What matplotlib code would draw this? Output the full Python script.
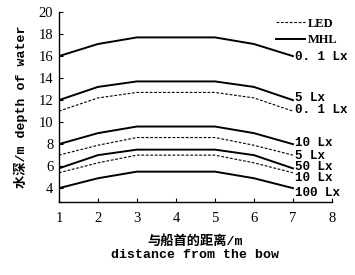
import numpy as np
import matplotlib
matplotlib.use('Agg')
import matplotlib.pyplot as plt

plt.rcParams['font.family'] = ['Liberation Mono', 'Noto Sans CJK SC']

# distance from the bow (m)
dist = [1, 2, 3, 4, 5, 6, 7]

# MHL lamps, depth of water at each light level
mhl_01 = [16.0, 17.1, 17.7, 17.7, 17.7, 17.1, 16.0]
mhl_5 = [12.0, 13.2, 13.7, 13.7, 13.7, 13.2, 12.0]
mhl_10 = [8.0, 9.0, 9.6, 9.6, 9.6, 9.0, 8.0]
mhl_50 = [5.8, 7.0, 7.5, 7.5, 7.5, 7.0, 5.8]
mhl_100 = [4.0, 4.9, 5.5, 5.5, 5.5, 4.9, 4.0]

# LED lamps
led_01 = [11.0, 12.2, 12.7, 12.7, 12.7, 12.2, 11.0]
led_5 = [7.0, 7.9, 8.6, 8.6, 8.6, 7.9, 7.0]
led_10 = [5.4, 6.3, 7.0, 7.0, 7.0, 6.3, 5.4]

mhl_series = [mhl_01, mhl_5, mhl_10, mhl_50, mhl_100]
mhl_labels = ['0. 1 Lx', '5 Lx', '10 Lx', '50 Lx', '100 Lx']
led_series = [led_01, led_5, led_10]
led_labels = ['0. 1 Lx', '5 Lx', '10 Lx']

fig = plt.figure(figsize=(3.55, 2.75), dpi=100)
ax = fig.add_axes([0.166, 0.265, 0.769, 0.691])

dash = (0, (2.5, 1.5))
for s in mhl_series:
    ax.plot(dist, s, color='black', linewidth=1.4)
for s in led_series:
    ax.plot(dist, s, color='black', linewidth=0.8, linestyle=dash)

# end labels, nudged a little so they don't collide
mhl_nudge = [-0.1, 0.2, 0.1, 0.1, -0.4]
led_nudge = [0.1, -0.1, -0.5]
for s, lab, dy in zip(mhl_series, mhl_labels, mhl_nudge):
    ax.text(7.05, s[-1] + dy, lab, fontsize=9, va='center', ha='left', fontweight='bold')
for s, lab, dy in zip(led_series, led_labels, led_nudge):
    ax.text(7.05, s[-1] + dy, lab, fontsize=9, va='center', ha='left', fontweight='bold')

# legend via proxy lines
l1, = ax.plot([], [], color='black', linewidth=0.8, linestyle=dash)
l2, = ax.plot([], [], color='black', linewidth=1.4)
ax.legend([l1, l2], ['LED', 'MHL'], loc='upper right', bbox_to_anchor=(1.06, 1.03),
          frameon=False, handlelength=2.3, handletextpad=0.2, labelspacing=0.35,
          prop={'family': 'Liberation Serif', 'size': 9, 'weight': 'bold'})

ax.set_xlim(1, 8)
ax.set_ylim(2.73, 20)
ax.set_xticks(range(1, 9))
ax.set_yticks(range(4, 21, 2))
ax.tick_params(direction='in', length=3, width=0.8, labelsize=10.5)
ax.tick_params(axis='x', pad=7)
ax.tick_params(axis='y', pad=4)
for lab in ax.get_xticklabels() + ax.get_yticklabels():
    lab.set_family('Liberation Serif')
ax.spines['top'].set_visible(False)
ax.spines['right'].set_visible(False)
for sp in ['left', 'bottom']:
    ax.spines[sp].set_linewidth(1.0)

ax.set_xlabel('与船首的距离/m\ndistance from the bow', fontsize=9.5, linespacing=1.2,
              labelpad=7, fontweight='bold')
ax.set_ylabel('水深/m depth of water', fontsize=9.5, fontweight='bold')
ax.yaxis.set_label_coords(-0.115, 0.5)

fig.savefig('out.png', dpi=100)
